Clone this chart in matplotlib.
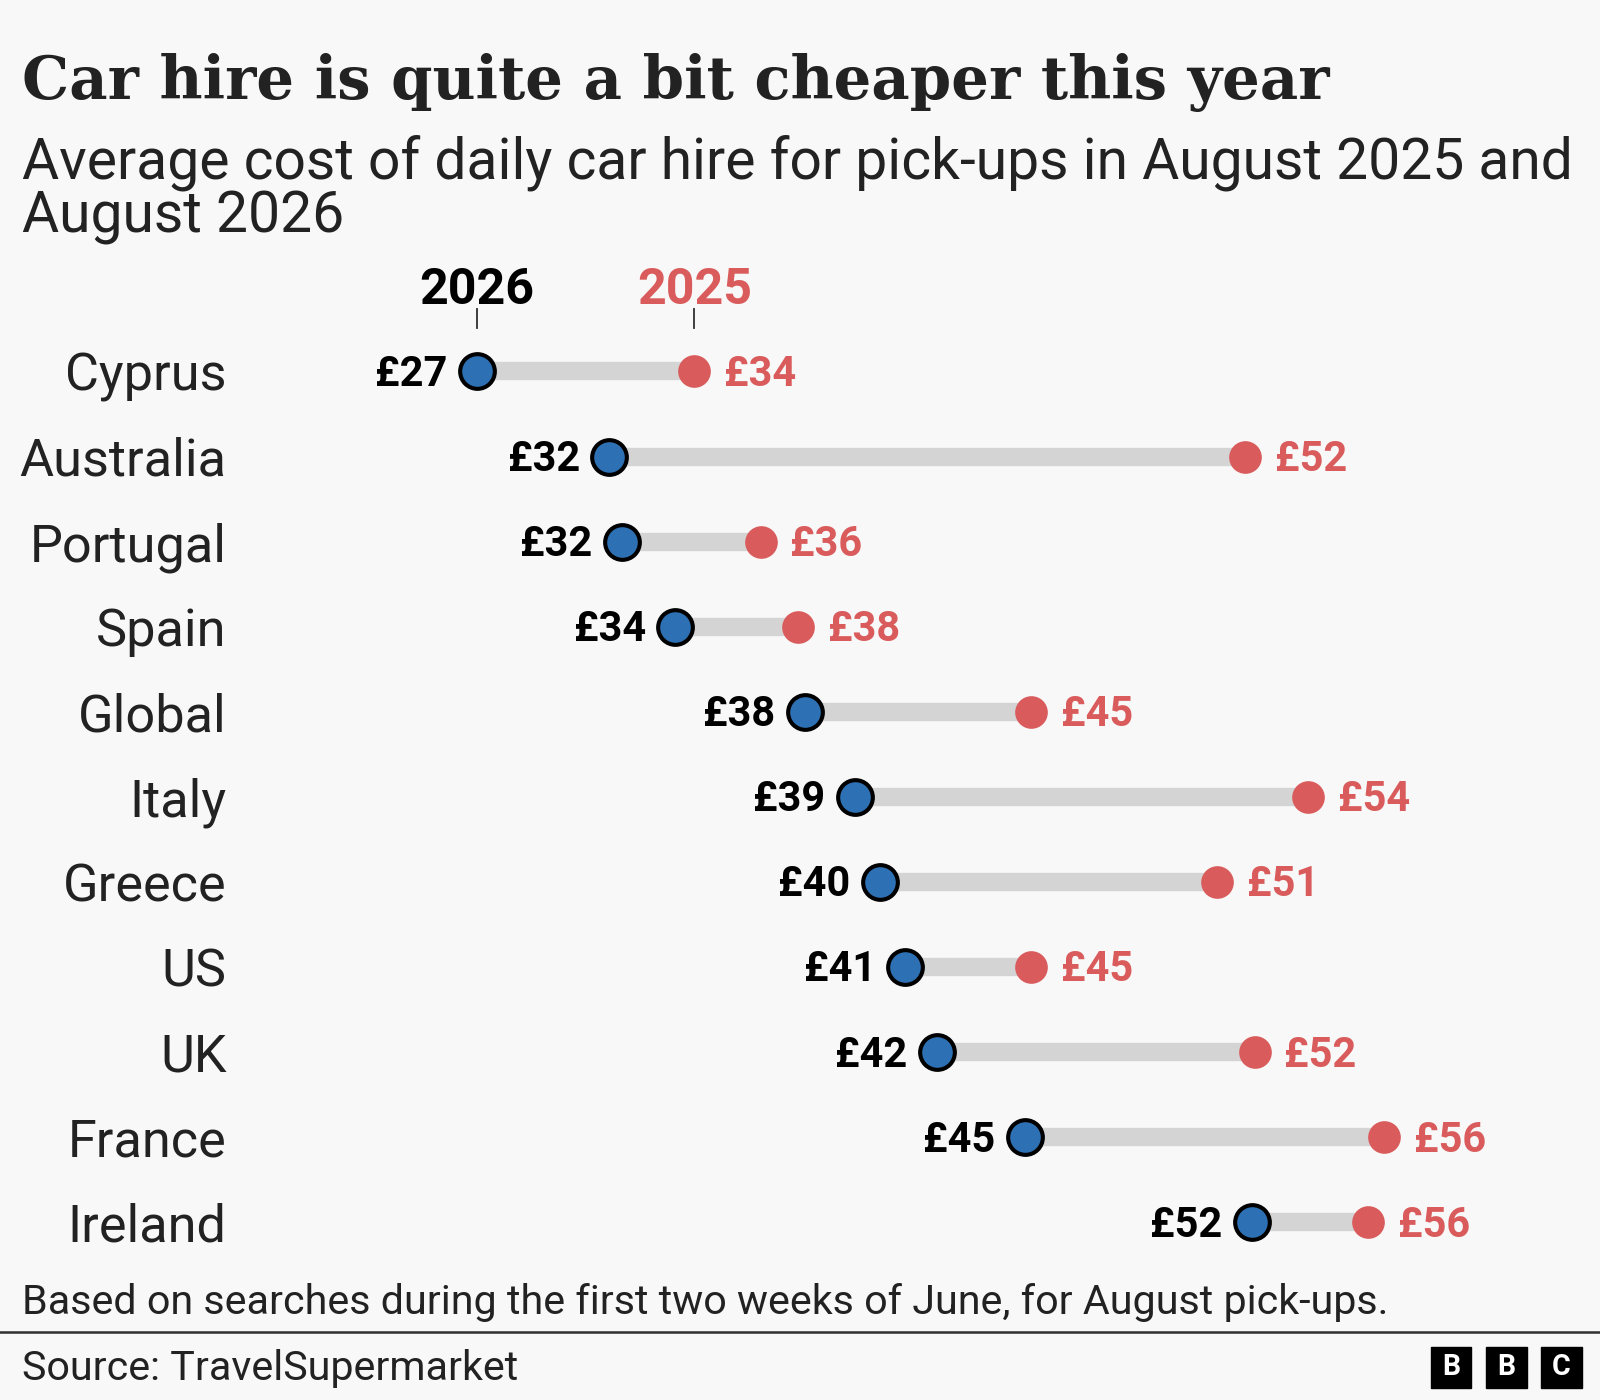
import matplotlib
matplotlib.use("Agg")
import matplotlib.pyplot as plt
from matplotlib.lines import Line2D
from matplotlib.patches import Rectangle

# ---- data ----
countries = ["Cyprus", "Australia", "Portugal", "Spain", "Global", "Italy",
             "Greece", "US", "UK", "France", "Ireland"]
cost_2026 = [27.4, 31.6, 32.0, 33.7, 37.8, 39.4, 40.2, 41.0, 42.0, 44.8, 52.0]
cost_2025 = [34.3, 51.8, 36.4, 37.6, 45.0, 53.8, 50.9, 45.0, 52.1, 56.2, 55.7]
series_labels = ["2026", "2025"]

title = "Car hire is quite a bit cheaper this year"
subtitle1 = "Average cost of daily car hire for pick-ups in August 2025 and"
subtitle2 = "August 2026"
note = "Based on searches during the first two weeks of June, for August pick-ups."
source = "Source: TravelSupermarket"

# ---- style ----
BG = "#f8f8f8"
BLUE = "#2d71b4"
RED = "#d95b5b"
BAR = "#d4d4d4"
DARK = "#222222"
SANS = ["Roboto", "DejaVu Sans"]
SERIF = ["DejaVu Serif"]

W, H = 1568, 1372          # reference frame
S = 1600 / W               # scale to output pixels
PT = S * 72 / 100          # reference px -> points


def fx(x):
    return x / W


def fy(y):
    return 1 - y / H


fig = plt.figure(figsize=(16, 14), dpi=100, facecolor=BG)
renderer = fig.canvas.get_renderer()


def fit(t, target):
    w = t.get_window_extent(renderer).width
    t.set_fontsize(t.get_fontsize() * target * S / w)
    return t.get_fontsize()


# title / subtitle
t = fig.text(fx(22), fy(97), title, family=SERIF, weight="bold", color=DARK,
             fontsize=40, va="baseline", ha="left")
fit(t, 1280)
s1 = fig.text(fx(22), fy(175), subtitle1, family=SANS, color=DARK,
              fontsize=30, va="baseline", ha="left")
fs = fit(s1, 1520)
fig.text(fx(22), fy(228), subtitle2, family=SANS, color=DARK,
         fontsize=fs, va="baseline", ha="left")

# ---- main axes ----
ax = fig.add_axes([0, fy(1240), 1, (1240 - 300) / H])
ax.set_facecolor(BG)
ax.set_xlim(12.249, 63.059)
ax.set_ylim(10.5036, -0.7674)
ax.axis("off")

rows = list(range(len(countries)))
ax.hlines(rows, cost_2026, cost_2025, color=BAR, lw=18 * PT, zorder=1)
ax.scatter(cost_2025, rows, s=(32 * PT) ** 2, color=RED, lw=0, zorder=2)
ax.scatter(cost_2026, rows, s=(34 * PT) ** 2, color=BLUE,
           edgecolor="black", linewidths=4 * PT, zorder=3)

# country labels
lab = []
for i, c in enumerate(countries):
    tt = ax.annotate(c, xy=(fx(222), i), xycoords=("figure fraction", "data"),
                     xytext=(0, -19 * PT), textcoords="offset points",
                     ha="right", va="baseline", family=SANS, color=DARK,
                     fontsize=30)
    lab.append(tt)
fsc = fit(lab[1], 202)
for tt in lab:
    tt.set_fontsize(fsc)

# value labels
vl = []
for i in rows:
    a = ax.annotate(f"£{cost_2026[i]:.0f}", xy=(cost_2026[i], i),
                    xytext=(-29 * PT, -14 * PT), textcoords="offset points",
                    ha="right", va="baseline", family=SANS, weight="bold",
                    color="black", fontsize=26)
    b = ax.annotate(f"£{cost_2025[i]:.0f}", xy=(cost_2025[i], i),
                    xytext=(29 * PT, -14 * PT), textcoords="offset points",
                    ha="left", va="baseline", family=SANS, weight="bold",
                    color=RED, fontsize=26)
    vl += [a, b]
fsv = fit(vl[0], 71)
for tt in vl:
    tt.set_fontsize(fsv)

# header labels with ticks
for v, lbl, col in [(cost_2026[0], series_labels[0], "black"),
                    (cost_2025[0], series_labels[1], RED)]:
    h = ax.annotate(lbl, xy=(v, 0), xytext=(0, (364 - 298) * PT),
                    textcoords="offset points", ha="center", va="baseline",
                    family=SANS, weight="bold", color=col, fontsize=30)
    fit(h, 113)
    ax.plot([v, v], [(303 - 364) / 83.4, (321 - 364) / 83.4],
            color="#333333", lw=1.8 * PT, clip_on=False)

# footer
n = fig.text(fx(22), fy(1288), note, family=SANS, color=DARK, fontsize=22,
             va="baseline", ha="left")
fit(n, 1338)
fig.add_artist(Line2D([0, 1], [fy(1305), fy(1305)], color="#333333",
                      lw=2.5 * PT))
sr = fig.text(fx(22), fy(1352), source, family=SANS, color=DARK, fontsize=22,
              va="baseline", ha="left")
fit(sr, 486)

# BBC logo
for k, ch in enumerate("BBC"):
    x0 = 1402 + k * 54
    fig.add_artist(Rectangle((fx(x0), fy(1360)), 40 / W, 40 / H,
                             transform=fig.transFigure, color="black"))
    fig.text(fx(x0 + 20), fy(1340), ch, family=SANS, weight="bold",
             color="white", fontsize=28 * PT, ha="center", va="center")

fig.savefig("out.png", dpi=100, facecolor=BG)
